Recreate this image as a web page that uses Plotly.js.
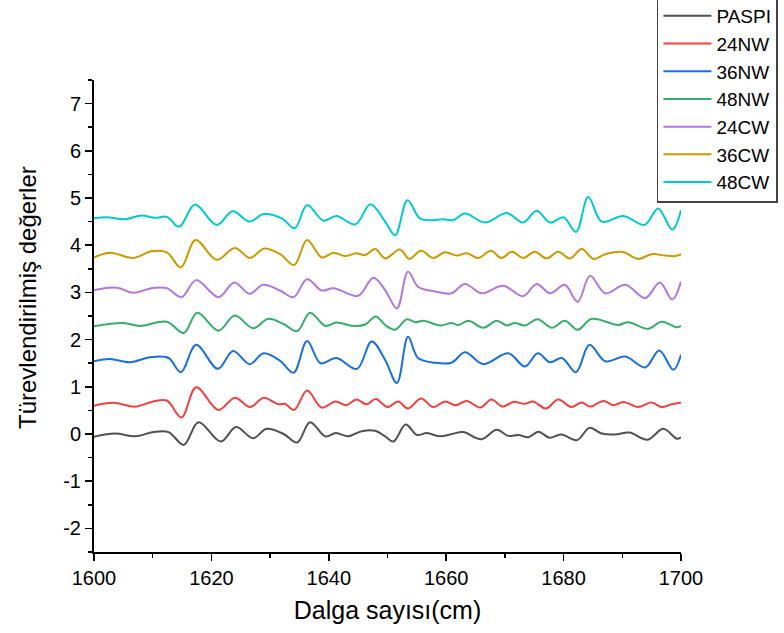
<!DOCTYPE html>
<html>
<head>
<meta charset="utf-8">
<script src="https://cdn.plot.ly/plotly-3.0.1.min.js"></script>
<style>html,body{margin:0;padding:0;background:#fff;}#chart{width:784px;height:633px;}</style>
</head>
<body>
<div id="chart"></div>
<script>
var seriesNames = ["PASPI", "24NW", "36NW", "48NW", "24CW", "36CW", "48CW"];
var seriesColors = ["#515151", "#F14040", "#1A6FDF", "#37AD6B", "#B177DE", "#CC9900", "#00CBCC"];

var paspiX = [1600,1603.6,1607.0,1610.1,1612.7,1615.3,1617.8,1621.6,1624.2,1627.1,1629.4,1632.3,1634.6,1636.8,1639.4,1641.2,1643.3,1645.6,1647.9,1649.6,1651.0,1653.1,1655.0,1656.7,1659.0,1661.0,1662.9,1666.0,1668.6,1670.6,1672.3,1674.0,1675.7,1677.6,1679.6,1682.3,1684.4,1686.5,1688.8,1691.2,1694.3,1697.0,1699.3,1700];
var paspiY = [-0.06,0.01,-0.05,0.04,0.04,-0.23,0.25,-0.16,0.15,-0.09,0.11,0.00,-0.18,0.25,-0.05,0.02,-0.05,0.06,0.07,-0.05,-0.16,0.20,-0.02,0.02,-0.05,0.00,0.04,-0.11,0.09,-0.04,-0.02,-0.07,0.05,-0.08,-0.01,-0.13,0.13,0.01,-0.01,0.03,-0.12,0.11,-0.10,-0.07];

var nw24X = [1600,1603.3,1607.0,1609.8,1612.4,1614.9,1617.4,1621.2,1624.0,1626.6,1628.9,1631.4,1632.5,1634.1,1636.3,1638.8,1641.1,1643.0,1644.7,1646.4,1648.0,1650.0,1651.8,1653.5,1655.7,1657.8,1659.8,1661.6,1663.5,1665.8,1667.7,1669.6,1671.4,1673.4,1674.8,1677.0,1679.1,1681.3,1683.1,1684.5,1686.8,1688.5,1690.2,1692.7,1695.0,1696.7,1698.4,1700];
var nw24Y = [0.60,0.66,0.58,0.68,0.71,0.35,0.99,0.51,0.77,0.57,0.77,0.63,0.64,0.51,0.92,0.56,0.69,0.61,0.73,0.63,0.74,0.57,0.69,0.54,0.75,0.57,0.69,0.61,0.70,0.56,0.73,0.58,0.68,0.64,0.69,0.54,0.73,0.57,0.67,0.58,0.70,0.61,0.68,0.57,0.67,0.57,0.63,0.66];

var nw36X = [1600,1602.7,1606.1,1609.8,1612.7,1614.8,1617.4,1621.1,1623.7,1626.5,1628.9,1631.7,1634.0,1636.3,1638.6,1641.3,1644.8,1647.3,1649.6,1651.6,1653.5,1655.2,1658.1,1660.9,1663.2,1666.3,1670.6,1673.4,1675.6,1677.7,1679.7,1682.1,1684.4,1687.1,1690.5,1693.9,1696.3,1698.7,1700];
var nw36Y = [1.54,1.59,1.52,1.63,1.61,1.31,1.89,1.38,1.76,1.48,1.71,1.55,1.30,1.97,1.50,1.61,1.38,1.96,1.57,1.08,2.06,1.61,1.51,1.51,1.73,1.48,1.71,1.43,1.71,1.52,1.61,1.31,1.89,1.54,1.64,1.41,1.77,1.36,1.68];

var nw48X = [1600,1605.0,1607.8,1612.4,1615.3,1617.6,1621.2,1624.0,1627.1,1629.7,1632.3,1634.6,1636.8,1639.4,1641.3,1644.2,1646.2,1648.0,1649.6,1651.3,1653.3,1654.7,1656.1,1659.0,1660.9,1662.1,1663.8,1666.3,1668.6,1670.3,1671.7,1673.4,1675.6,1678.0,1680.2,1682.4,1684.8,1689.3,1691.0,1694.4,1696.7,1699.3,1700];
var nw48Y = [2.28,2.35,2.29,2.38,2.14,2.57,2.19,2.51,2.24,2.44,2.33,2.18,2.57,2.29,2.36,2.29,2.32,2.49,2.31,2.21,2.43,2.37,2.40,2.30,2.35,2.31,2.40,2.25,2.40,2.30,2.35,2.30,2.43,2.25,2.40,2.21,2.44,2.31,2.37,2.23,2.38,2.26,2.29];

var cw24X = [1600,1603.9,1606.7,1609.8,1612.4,1614.9,1617.4,1621.2,1623.9,1626.5,1628.8,1631.7,1634.0,1636.3,1638.8,1640.8,1645.0,1647.6,1649.6,1651.6,1653.5,1655.2,1658.1,1660.9,1663.2,1666.0,1669.7,1673.1,1675.4,1677.7,1680.2,1682.4,1684.5,1687.1,1690.5,1693.9,1696.4,1698.5,1700];
var cw24Y = [3.05,3.10,2.99,3.09,3.09,2.90,3.26,2.90,3.21,2.97,3.16,3.04,2.90,3.28,3.04,3.09,2.93,3.31,3.05,2.66,3.44,3.12,3.02,2.98,3.18,2.98,3.14,2.92,3.18,2.98,3.16,2.80,3.35,2.98,3.16,2.88,3.21,2.85,3.23];

var cw36X = [1600,1602.7,1606.7,1609.8,1612.4,1614.8,1617.3,1620.9,1624.0,1626.6,1629.0,1631.7,1634.1,1636.3,1638.8,1640.8,1642.8,1644.7,1646.2,1647.9,1649.6,1652.1,1653.7,1655.7,1657.8,1659.8,1661.8,1663.5,1665.5,1667.6,1669.4,1671.2,1673.1,1675.1,1677.1,1679.1,1681.1,1683.1,1685.1,1687.1,1690.0,1692.7,1695.0,1697.3,1699.0,1700];
var cw36Y = [3.74,3.84,3.73,3.87,3.85,3.53,4.11,3.69,3.94,3.73,3.93,3.81,3.58,4.11,3.74,3.84,3.77,3.83,3.79,3.92,3.72,3.91,3.71,3.88,3.73,3.85,3.78,3.83,3.73,3.88,3.73,3.86,3.73,3.86,3.72,3.86,3.72,3.92,3.71,3.81,3.86,3.71,3.81,3.78,3.77,3.81];

var cw48X = [1600,1602.2,1605.3,1608.1,1610.4,1612.4,1614.5,1617.2,1620.9,1623.6,1626.5,1628.9,1632.0,1634.2,1636.3,1639.1,1641.3,1644.5,1647.1,1649.6,1651.3,1653.4,1655.5,1657.5,1659.5,1661.2,1663.2,1666.6,1670.3,1673.1,1675.4,1677.7,1680.0,1682.1,1684.2,1686.5,1690.2,1693.8,1696.1,1698.5,1700];
var cw48Y = [4.57,4.59,4.55,4.63,4.58,4.60,4.39,4.86,4.43,4.72,4.50,4.66,4.57,4.36,4.85,4.52,4.62,4.44,4.87,4.50,4.21,4.95,4.57,4.53,4.55,4.53,4.67,4.48,4.68,4.48,4.73,4.48,4.59,4.28,5.02,4.50,4.62,4.43,4.78,4.33,4.74];

var xTickVals = [1600,1620,1640,1660,1680,1700];
var yTickVals = [-2,-1,0,1,2,3,4,5,6,7];
var xTitle = "Dalga sayısı(cm)";
var yTitle = "Türevlendirilmiş değerler";

var allX = [paspiX, nw24X, nw36X, nw48X, cw24X, cw36X, cw48X];
var allY = [paspiY, nw24Y, nw36Y, nw48Y, cw24Y, cw36Y, cw48Y];

var FONT = "Liberation Sans, Arial, sans-serif";
var traces = seriesNames.map(function(n, i){
  return {
    type: "scatter", mode: "lines", name: n,
    x: allX[i], y: allY[i],
    line: {color: seriesColors[i], width: 2, shape: "spline", smoothing: 1}
  };
});

var layout = {
  width: 784, height: 633,
  margin: {l: 94, r: 103, t: 80, b: 81, autoexpand: false},
  paper_bgcolor: "#fff", plot_bgcolor: "#fff",
  font: {family: FONT, size: 20, color: "#000"},
  showlegend: true,
  legend: {
    x: 0.959, y: 1.179, xanchor: "left", yanchor: "top",
    bgcolor: "#fff", bordercolor: "#444", borderwidth: 1.5,
    font: {family: FONT, size: 19, color: "#000"},
    itemwidth: 48, tracegroupgap: 0
  },
  xaxis: {
    range: [1600, 1700], tickvals: xTickVals, ticktext: xTickVals.map(String),
    showgrid: false, zeroline: false, showline: true, linecolor: "#000", linewidth: 2,
    ticks: "outside", ticklen: 7, tickwidth: 1.5, tickcolor: "#000",
    minor: {dtick: 10, tick0: 1600, ticks: "outside", ticklen: 4, tickwidth: 1.5, tickcolor: "#000", showgrid: false},
    tickfont: {family: FONT, size: 20, color: "#000"},
    title: {text: xTitle, font: {family: FONT, size: 25, color: "#000"}, standoff: 13}
  },
  yaxis: {
    range: [-2.5, 7.5], tickvals: yTickVals, ticktext: yTickVals.map(String),
    showgrid: false, zeroline: false, showline: true, linecolor: "#000", linewidth: 2,
    ticks: "outside", ticklen: 7, tickwidth: 1.5, tickcolor: "#000",
    minor: {dtick: 0.5, tick0: 0, ticks: "outside", ticklen: 4, tickwidth: 1.5, tickcolor: "#000", showgrid: false},
    tickfont: {family: FONT, size: 20, color: "#000"}
  },
  annotations: [{
    text: yTitle, textangle: -90, showarrow: false,
    xref: "paper", yref: "paper", x: (27 - 94) / 587, y: (552 - 298) / 472,
    xanchor: "center", yanchor: "middle",
    font: {family: FONT, size: 24, color: "#000"}
  }]
};

Plotly.newPlot("chart", traces, layout, {displayModeBar: false, staticPlot: true});
</script>
</body>
</html>
